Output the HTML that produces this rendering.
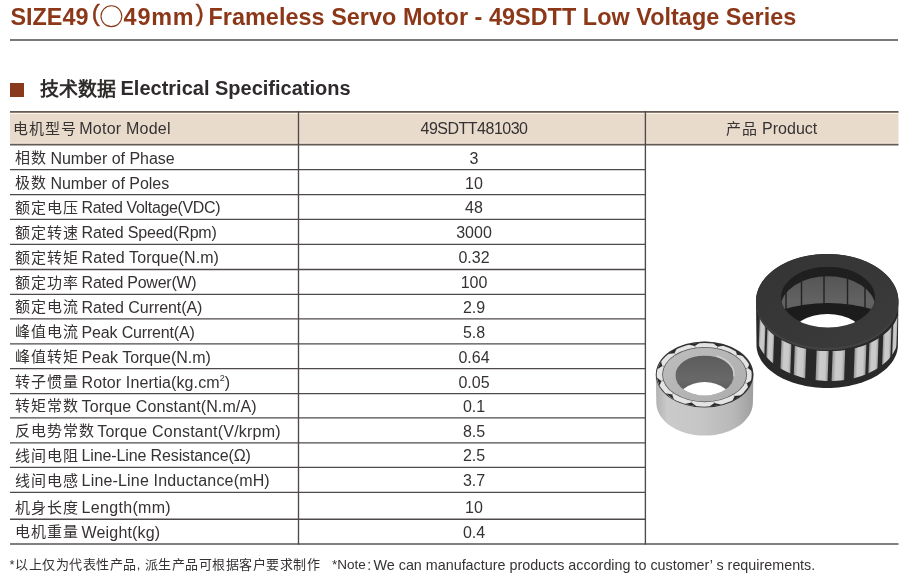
<!DOCTYPE html>
<html lang="zh-CN"><head><meta charset="utf-8"><style>
html,body{margin:0;padding:0;background:#fff;}
body{width:900px;height:578px;position:relative;overflow:hidden;font-family:"Liberation Sans",sans-serif;color:#363232;}
.t{position:absolute;font-size:16px;line-height:18px;white-space:nowrap;}
#txt{position:absolute;left:0;top:0;width:900px;height:578px;will-change:transform;}
.cn{font-size:15px;letter-spacing:1px;}
.en{margin-left:4.2px;}
.v{left:374px;width:200px;text-align:center;}
.title{position:absolute;font-weight:bold;font-size:23.4px;line-height:28px;color:#8c3818;white-space:nowrap;}
sup{font-size:9px;vertical-align:0;position:relative;top:-7px;}
svg{position:absolute;left:0;top:0;}
</style></head><body>
<svg width="900" height="578" viewBox="0 0 900 578">
<line x1="10" x2="898" y1="40" y2="40" stroke="#7a7876" stroke-width="1.8"/>
<rect x="10" y="112" width="888.5" height="32.6" fill="#e8dbcc"/>
<line x1="10" x2="898.5" y1="113.4" y2="113.4" stroke="#fff3e6" stroke-width="1.2"/>
<line x1="10" x2="898.5" y1="143.3" y2="143.3" stroke="#fff3e6" stroke-width="1.2"/>
<line x1="10" x2="898.5" y1="111.9" y2="111.9" stroke="#655c57" stroke-width="1.9"/>
<line x1="10" x2="898.5" y1="144.6" y2="144.6" stroke="#625a55" stroke-width="1.6"/>
<g stroke="#4f4a4a" stroke-width="1.35">
<line x1="10" x2="645.5" y1="169.6" y2="169.6"/><line x1="10" x2="645.5" y1="194.6" y2="194.6"/><line x1="10" x2="645.5" y1="219.4" y2="219.4"/><line x1="10" x2="645.5" y1="244.3" y2="244.3"/><line x1="10" x2="645.5" y1="269.5" y2="269.5"/><line x1="10" x2="645.5" y1="294.4" y2="294.4"/><line x1="10" x2="645.5" y1="318.9" y2="318.9"/><line x1="10" x2="645.5" y1="343.8" y2="343.8"/><line x1="10" x2="645.5" y1="368.6" y2="368.6"/><line x1="10" x2="645.5" y1="393.6" y2="393.6"/><line x1="10" x2="645.5" y1="417.9" y2="417.9"/><line x1="10" x2="645.5" y1="442.8" y2="442.8"/><line x1="10" x2="645.5" y1="467.4" y2="467.4"/><line x1="10" x2="645.5" y1="492.3" y2="492.3"/><line x1="10" x2="645.5" y1="519.2" y2="519.2"/>
<line x1="10" x2="898.5" y1="544" y2="544" stroke="#5a5555" stroke-width="1.5"/>
<line x1="298.5" x2="298.5" y1="111" y2="544.6"/>
<line x1="645.4" x2="645.4" y1="111" y2="544.6"/>
</g>
<rect x="10" y="83" width="14" height="14" fill="#8a3a1c"/>
<g id="prod"><defs>
<linearGradient id="bar" x1="0" x2="1" y1="0" y2="0"><stop offset="0" stop-color="#959595"/><stop offset="0.3" stop-color="#cbcbcb"/><stop offset="0.75" stop-color="#c9c9c9"/><stop offset="1" stop-color="#9c9c9c"/></linearGradient>
<linearGradient id="face" x1="0" x2="1" y1="0" y2="1"><stop offset="0" stop-color="#343434"/><stop offset="0.6" stop-color="#383838"/><stop offset="1" stop-color="#3c3c3c"/></linearGradient>
<linearGradient id="lam" x1="0" x2="0" y1="0" y2="1"><stop offset="0" stop-color="#555"/><stop offset="0.4" stop-color="#626262"/><stop offset="1" stop-color="#5a5a5a"/></linearGradient>
<linearGradient id="rbody" x1="0" x2="1" y1="0" y2="0"><stop offset="0" stop-color="#b2b2b2"/><stop offset="0.12" stop-color="#cacaca"/><stop offset="0.45" stop-color="#c6c6c6"/><stop offset="0.8" stop-color="#b8b8b8"/><stop offset="1" stop-color="#9e9e9e"/></linearGradient>
<linearGradient id="rface" x1="0" x2="1" y1="0" y2="1"><stop offset="0" stop-color="#bdbdbd"/><stop offset="1" stop-color="#adadad"/></linearGradient>
<linearGradient id="rhole" x1="0" x2="0" y1="0" y2="1"><stop offset="0" stop-color="#5c5c5c"/><stop offset="0.6" stop-color="#686868"/><stop offset="1" stop-color="#5a5a5a"/></linearGradient>
<clipPath id="bandclip"><polygon points="756.0,304.0 756.1,306.5 756.4,308.9 756.9,311.4 757.6,313.8 758.4,316.2 759.5,318.5 760.7,320.8 762.2,323.1 763.8,325.3 765.5,327.5 767.5,329.6 769.6,331.6 771.9,333.6 774.3,335.4 776.9,337.2 779.6,338.9 782.4,340.5 785.3,342.0 788.4,343.4 791.6,344.7 794.9,345.9 798.2,346.9 801.7,347.9 805.2,348.7 808.8,349.4 812.4,350.0 816.1,350.4 819.8,350.7 823.5,350.9 827.2,351.0 830.9,350.9 834.6,350.7 838.3,350.4 842.0,350.0 845.6,349.4 849.2,348.7 852.7,347.9 856.2,346.9 859.5,345.9 862.8,344.7 866.0,343.4 869.1,342.0 872.0,340.5 874.8,338.9 877.5,337.2 880.1,335.4 882.5,333.6 884.8,331.6 886.9,329.6 888.9,327.5 890.6,325.3 892.2,323.1 893.7,320.8 894.9,318.5 896.0,316.2 896.8,313.8 897.5,311.4 898.0,308.9 898.3,306.5 898.4,304.0 898.4,334.0 898.3,336.5 898.0,338.9 897.5,341.4 896.8,343.8 896.0,346.2 894.9,348.5 893.7,350.8 892.2,353.1 890.6,355.3 888.9,357.5 886.9,359.6 884.8,361.6 882.5,363.6 880.1,365.4 877.5,367.2 874.8,368.9 872.0,370.5 869.1,372.0 866.0,373.4 862.8,374.7 859.5,375.9 856.2,376.9 852.7,377.9 849.2,378.7 845.6,379.4 842.0,380.0 838.3,380.4 834.6,380.7 830.9,380.9 827.2,381.0 823.5,380.9 819.8,380.7 816.1,380.4 812.4,380.0 808.8,379.4 805.2,378.7 801.7,377.9 798.2,376.9 794.9,375.9 791.6,374.7 788.4,373.4 785.3,372.0 782.4,370.5 779.6,368.9 776.9,367.2 774.3,365.4 771.9,363.6 769.6,361.6 767.5,359.6 765.5,357.5 763.8,355.3 762.2,353.1 760.7,350.8 759.5,348.5 758.4,346.2 757.6,343.8 756.9,341.4 756.4,338.9 756.1,336.5 756.0,334.0"/></clipPath>
<clipPath id="holeclip"><ellipse cx="828" cy="297.2" rx="47" ry="30.4"/></clipPath>
<clipPath id="sholeclip"><ellipse cx="704.6" cy="375.5" rx="29.2" ry="20"/></clipPath>
</defs>
<polygon points="655.8,374.6 655.9,372.9 656.1,371.2 656.4,369.4 656.9,367.7 657.5,366.1 658.2,364.4 659.0,362.8 660.0,361.2 661.1,359.6 662.3,358.1 663.7,356.6 665.1,355.2 666.7,353.8 668.3,352.5 670.1,351.3 671.9,350.1 673.9,349.0 675.9,347.9 678.0,346.9 680.2,346.0 682.4,345.2 684.8,344.5 687.1,343.8 689.5,343.2 692.0,342.7 694.5,342.3 697.0,342.0 699.5,341.8 702.0,341.6 704.6,341.6 707.2,341.6 709.7,341.8 712.2,342.0 714.7,342.3 717.2,342.7 719.7,343.2 722.1,343.8 724.4,344.5 726.8,345.2 729.0,346.0 731.2,346.9 733.3,347.9 735.3,349.0 737.3,350.1 739.1,351.3 740.9,352.5 742.5,353.8 744.1,355.2 745.5,356.6 746.9,358.1 748.1,359.6 749.2,361.2 750.2,362.8 751.0,364.4 751.7,366.1 752.3,367.7 752.8,369.4 753.1,371.2 753.3,372.9 753.4,374.6 752.9,402.6 752.8,404.3 752.6,406.0 752.3,407.8 751.8,409.5 751.3,411.1 750.5,412.8 749.7,414.4 748.7,416.0 747.6,417.6 746.4,419.1 745.1,420.6 743.7,422.0 742.1,423.4 740.5,424.7 738.8,425.9 736.9,427.1 735.0,428.2 733.0,429.3 730.9,430.3 728.8,431.2 726.5,432.0 724.2,432.7 721.9,433.4 719.5,434.0 717.1,434.5 714.6,434.9 712.2,435.2 709.6,435.4 707.1,435.6 704.6,435.6 702.1,435.6 699.6,435.4 697.0,435.2 694.6,434.9 692.1,434.5 689.7,434.0 687.3,433.4 685.0,432.7 682.7,432.0 680.5,431.2 678.3,430.3 676.2,429.3 674.2,428.2 672.3,427.1 670.4,425.9 668.7,424.7 667.1,423.4 665.5,422.0 664.1,420.6 662.8,419.1 661.6,417.6 660.5,416.0 659.5,414.4 658.7,412.8 657.9,411.1 657.4,409.5 656.9,407.8 656.6,406.0 656.4,404.3 656.3,402.6" fill="url(#rbody)"/>
<ellipse cx="704.6" cy="374.6" rx="48.8" ry="33" fill="#333"/>
<ellipse cx="704.2" cy="374.90000000000003" rx="47.5" ry="31.8" fill="#e4e4e4"/>
<polygon points="751.9,380.0 748.2,388.0 746.9,383.2" fill="#2a2a2a"/>
<line x1="746.9" y1="383.2" x2="745.2" y2="382.8" stroke="#777" stroke-width="0.8"/>
<polygon points="741.5,395.2 732.4,400.9 734.7,396.0" fill="#2a2a2a"/>
<line x1="734.7" y1="396.0" x2="733.5" y2="394.9" stroke="#777" stroke-width="0.8"/>
<polygon points="721.2,404.8 709.1,406.7 714.4,403.1" fill="#2a2a2a"/>
<line x1="714.4" y1="403.1" x2="714.0" y2="401.6" stroke="#777" stroke-width="0.8"/>
<polygon points="696.5,406.3 684.6,403.9 691.5,402.5" fill="#2a2a2a"/>
<line x1="691.5" y1="402.5" x2="692.0" y2="401.1" stroke="#777" stroke-width="0.8"/>
<polygon points="673.9,399.4 665.5,393.2 672.1,394.4" fill="#2a2a2a"/>
<line x1="672.1" y1="394.4" x2="673.4" y2="393.4" stroke="#777" stroke-width="0.8"/>
<polygon points="659.6,385.8 656.8,377.6 661.4,381.1" fill="#2a2a2a"/>
<line x1="661.4" y1="381.1" x2="663.2" y2="380.7" stroke="#777" stroke-width="0.8"/>
<polygon points="657.3,369.2 661.0,361.2 662.3,366.0" fill="#2a2a2a"/>
<line x1="662.3" y1="366.0" x2="664.0" y2="366.4" stroke="#777" stroke-width="0.8"/>
<polygon points="667.7,354.0 676.8,348.3 674.5,353.2" fill="#2a2a2a"/>
<line x1="674.5" y1="353.2" x2="675.7" y2="354.3" stroke="#777" stroke-width="0.8"/>
<polygon points="688.0,344.4 700.1,342.5 694.8,346.1" fill="#2a2a2a"/>
<line x1="694.8" y1="346.1" x2="695.2" y2="347.6" stroke="#777" stroke-width="0.8"/>
<polygon points="712.7,342.9 724.6,345.3 717.7,346.7" fill="#2a2a2a"/>
<line x1="717.7" y1="346.7" x2="717.2" y2="348.1" stroke="#777" stroke-width="0.8"/>
<polygon points="735.3,349.8 743.7,356.0 737.1,354.8" fill="#2a2a2a"/>
<line x1="737.1" y1="354.8" x2="735.8" y2="355.8" stroke="#777" stroke-width="0.8"/>
<polygon points="749.6,363.4 752.4,371.6 747.8,368.1" fill="#2a2a2a"/>
<line x1="747.8" y1="368.1" x2="746.0" y2="368.5" stroke="#777" stroke-width="0.8"/>
<ellipse cx="704.6" cy="374.6" rx="42.5" ry="27.6" fill="#555"/>
<ellipse cx="704.6" cy="374.6" rx="41.699999999999996" ry="26.9" fill="url(#rface)"/>
<g clip-path="url(#sholeclip)">
<rect x="675.4" y="355.5" width="58.4" height="40" fill="url(#rhole)"/>
<ellipse cx="704.5" cy="404" rx="28.7" ry="22" fill="#ffffff"/>
</g>
<path d="M 716.6 356.0 A 29.2 20 0 0 1 733.8000000000001 376.5" fill="none" stroke="#cfcfcf" stroke-width="1.4"/>
<polygon points="756.0,301.0 756.1,298.5 756.4,296.1 756.9,293.6 757.6,291.2 758.4,288.8 759.5,286.5 760.7,284.2 762.2,281.9 763.8,279.7 765.5,277.5 767.5,275.4 769.6,273.4 771.9,271.4 774.3,269.6 776.9,267.8 779.6,266.1 782.4,264.5 785.3,263.0 788.4,261.6 791.6,260.3 794.9,259.1 798.2,258.1 801.7,257.1 805.2,256.3 808.8,255.6 812.4,255.0 816.1,254.6 819.8,254.3 823.5,254.1 827.2,254.0 830.9,254.1 834.6,254.3 838.3,254.6 842.0,255.0 845.6,255.6 849.2,256.3 852.7,257.1 856.2,258.1 859.5,259.1 862.8,260.3 866.0,261.6 869.1,263.0 872.0,264.5 874.8,266.1 877.5,267.8 880.1,269.6 882.5,271.4 884.8,273.4 886.9,275.4 888.9,277.5 890.6,279.7 892.2,281.9 893.7,284.2 894.9,286.5 896.0,288.8 896.8,291.2 897.5,293.6 898.0,296.1 898.3,298.5 898.4,301.0 897.9,345.0 897.8,347.3 897.5,349.5 897.0,351.7 896.4,353.9 895.5,356.1 894.4,358.3 893.2,360.4 891.8,362.5 890.2,364.5 888.4,366.5 886.5,368.4 884.4,370.3 882.1,372.1 879.7,373.8 877.2,375.4 874.5,377.0 871.7,378.4 868.8,379.8 865.7,381.1 862.6,382.2 859.3,383.3 856.0,384.3 852.5,385.1 849.0,385.9 845.5,386.5 841.9,387.1 838.3,387.5 834.6,387.8 830.9,387.9 827.2,388.0 823.5,387.9 819.8,387.8 816.1,387.5 812.5,387.1 808.9,386.5 805.4,385.9 801.9,385.1 798.4,384.3 795.1,383.3 791.9,382.2 788.7,381.1 785.6,379.8 782.7,378.4 779.9,377.0 777.2,375.4 774.7,373.8 772.3,372.1 770.0,370.3 767.9,368.4 766.0,366.5 764.2,364.5 762.6,362.5 761.2,360.4 760.0,358.3 758.9,356.1 758.0,353.9 757.4,351.7 756.9,349.5 756.6,347.3 756.5,345.0" fill="#292929"/>
<g clip-path="url(#bandclip)" transform="rotate(2 827 340)">
<rect x="759" y="300" width="6" height="100" fill="url(#bar)"/>
<rect x="767" y="300" width="7" height="100" fill="url(#bar)"/>
<rect x="781.5" y="300" width="10.0" height="100" fill="url(#bar)"/>
<rect x="795" y="300" width="11.5" height="100" fill="url(#bar)"/>
<rect x="817" y="300" width="12" height="100" fill="url(#bar)"/>
<rect x="833" y="300" width="12.5" height="100" fill="url(#bar)"/>
<rect x="855" y="300" width="11.5" height="100" fill="url(#bar)"/>
<rect x="869.5" y="300" width="9.0" height="100" fill="url(#bar)"/>
<rect x="883" y="300" width="8" height="100" fill="url(#bar)"/>
<rect x="892.5" y="300" width="4.2000000000000455" height="100" fill="url(#bar)"/>
</g>
<ellipse cx="827.2" cy="304" rx="70.9" ry="47" fill="#2c2c2c"/>
<ellipse cx="827.2" cy="303" rx="71.2" ry="47" fill="#434343"/>
<ellipse cx="827.2" cy="301" rx="71.2" ry="47" fill="url(#face)"/>
<g clip-path="url(#holeclip)">
<rect x="781" y="266.8" width="94" height="60.8" fill="#1f1f1f"/>
<ellipse cx="828" cy="306.7" rx="47" ry="30.4" fill="url(#lam)"/>
<line x1="786" x2="786" y1="270" y2="312" stroke="#222" stroke-width="1.4"/>
<line x1="801.5" x2="801.5" y1="270" y2="312" stroke="#222" stroke-width="1.4"/>
<line x1="824" x2="824" y1="270" y2="312" stroke="#222" stroke-width="1.4"/>
<line x1="847.5" x2="847.5" y1="270" y2="312" stroke="#222" stroke-width="1.4"/>
<line x1="865" x2="865" y1="270" y2="312" stroke="#222" stroke-width="1.4"/>
<path d="M 781 310 Q 828 296 875 310 L 875 330 L 781 330 Z" fill="#1c1c1c"/>
<ellipse cx="827.5" cy="337" rx="37" ry="23" fill="#ffffff"/>
</g></g>
</svg>
<div id="txt">
<div class="title" style="left:10.4px;top:3px">SIZE49</div>
<div class="title" style="left:91.8px;top:-0.7px;font-weight:normal;font-size:24px;-webkit-text-stroke:0.5px #8c3818">(</div>
<svg style="left:99.5px;top:4.5px" width="23" height="23"><circle cx="11.4" cy="11.2" r="10.4" fill="none" stroke="#8c3818" stroke-width="1.1"/></svg>
<div class="title" style="left:123.6px;top:3px;letter-spacing:0.8px">49mm</div>
<div class="title" style="left:195.8px;top:-0.7px;font-weight:normal;font-size:24px;-webkit-text-stroke:0.5px #8c3818">)</div>
<div class="title" style="left:208.5px;top:3px;letter-spacing:0.04px">Frameless Servo Motor - 49SDTT Low Voltage Series</div>
<div class="t" style="left:39.5px;top:77.5px;font-size:18.9px;line-height:24px;font-weight:bold;color:#2f2b2b">技术数据</div>
<div class="t" style="left:120.5px;top:76px;font-size:20px;line-height:24px;font-weight:bold;color:#2f2b2b">Electrical Specifications</div>
<div class="t cn" style="left:12.8px;top:119.8px;letter-spacing:1px">电机型号</div>
<div class="t" style="left:79.3px;top:119.6px;letter-spacing:0.23px">Motor Model</div>
<div class="t v" style="top:119.6px;letter-spacing:-0.5px">49SDTT481030</div>
<div class="t cn" style="left:725.8px;top:119.8px">产品</div>
<div class="t" style="left:762.1px;top:119.6px">Product</div>
<div class="t cn" style="top:149.06px;left:15px">相数</div><div class="t" style="top:149.56px;left:50.40px;letter-spacing:-0.014px">Number of Phase</div><div class="t v" style="top:149.56px">3</div><div class="t cn" style="top:174.06px;left:15px">极数</div><div class="t" style="top:174.56px;left:50.40px;letter-spacing:-0.029px">Number of Poles</div><div class="t v" style="top:174.56px">10</div><div class="t cn" style="top:198.86px;left:15px">额定电压</div><div class="t" style="top:199.36px;left:81.60px;letter-spacing:-0.353px">Rated Voltage(VDC)</div><div class="t v" style="top:199.36px">48</div><div class="t cn" style="top:223.76px;left:15px">额定转速</div><div class="t" style="top:224.26px;left:81.60px;letter-spacing:-0.173px">Rated Speed(Rpm)</div><div class="t v" style="top:224.26px">3000</div><div class="t cn" style="top:248.96px;left:15px">额定转矩</div><div class="t" style="top:249.46px;left:81.60px;letter-spacing:0.100px">Rated Torque(N.m)</div><div class="t v" style="top:249.46px">0.32</div><div class="t cn" style="top:273.86px;left:15px">额定功率</div><div class="t" style="top:274.36px;left:81.60px;letter-spacing:-0.246px">Rated Power(W)</div><div class="t v" style="top:274.36px">100</div><div class="t cn" style="top:298.36px;left:15px">额定电流</div><div class="t" style="top:298.86px;left:81.60px;letter-spacing:-0.067px">Rated Current(A)</div><div class="t v" style="top:298.86px">2.9</div><div class="t cn" style="top:323.26px;left:15px">峰值电流</div><div class="t" style="top:323.76px;left:81.60px;letter-spacing:-0.171px">Peak Current(A)</div><div class="t v" style="top:323.76px">5.8</div><div class="t cn" style="top:348.06px;left:15px">峰值转矩</div><div class="t" style="top:348.56px;left:81.60px;letter-spacing:-0.013px">Peak Torque(N.m)</div><div class="t v" style="top:348.56px">0.64</div><div class="t cn" style="top:373.06px;left:15px">转子惯量</div><div class="t" style="top:373.56px;left:81.60px;letter-spacing:0.110px">Rotor Inertia(kg.cm<sup>2</sup>)</div><div class="t v" style="top:373.56px">0.05</div><div class="t cn" style="top:397.36px;left:15px">转矩常数</div><div class="t" style="top:397.86px;left:81.60px;letter-spacing:0.114px">Torque Constant(N.m/A)</div><div class="t v" style="top:397.86px">0.1</div><div class="t cn" style="top:422.26px;left:15px">反电势常数</div><div class="t" style="top:422.76px;left:97.20px;letter-spacing:0.209px">Torque Constant(V/krpm)</div><div class="t v" style="top:422.76px">8.5</div><div class="t cn" style="top:446.86px;left:15px">线间电阻</div><div class="t" style="top:447.36px;left:81.60px;letter-spacing:-0.127px">Line-Line Resistance(Ω)</div><div class="t v" style="top:447.36px">2.5</div><div class="t cn" style="top:471.76px;left:15px">线间电感</div><div class="t" style="top:472.26px;left:81.60px;letter-spacing:0.174px">Line-Line Inductance(mH)</div><div class="t v" style="top:472.26px">3.7</div><div class="t cn" style="top:498.66px;left:15px">机身长度</div><div class="t" style="top:499.16px;left:81.60px;letter-spacing:0.311px">Length(mm)</div><div class="t v" style="top:499.16px">10</div><div class="t cn" style="top:523.46px;left:15px">电机重量</div><div class="t" style="top:523.96px;left:81.60px;letter-spacing:0.156px">Weight(kg)</div><div class="t v" style="top:523.96px">0.4</div>
<div class="t" style="left:9.6px;top:557px;font-size:13px;letter-spacing:0.5px;line-height:16px">*以上仅为代表性产品, 派生产品可根据客户要求制作</div>
<div class="t" style="left:332px;top:557.4px;font-size:13.5px;line-height:16px">*Note</div>
<div class="t" style="left:367.2px;top:557px;font-size:14px;line-height:16px">:</div>
<div class="t" style="left:373.5px;top:557px;font-size:14.33px;line-height:16px">We can manufacture products according to customer’ s requirements.</div>
</div>
</body></html>
